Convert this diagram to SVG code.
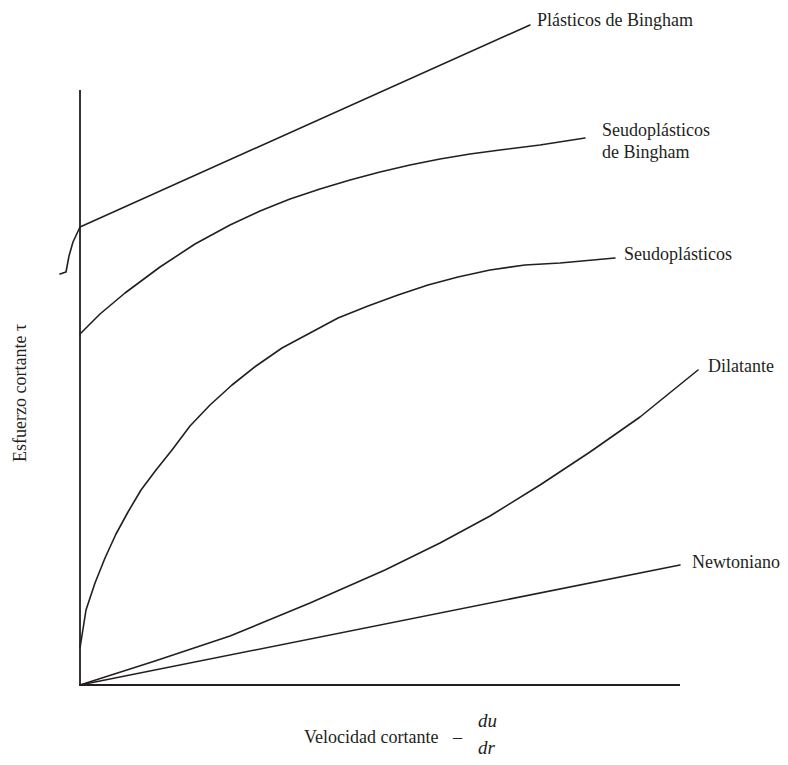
<svg xmlns="http://www.w3.org/2000/svg" width="788" height="765" viewBox="0 0 788 765">
<style>
.c{fill:none;stroke:#231f20;stroke-width:1.6;stroke-linejoin:round;stroke-linecap:round}
.ax{fill:none;stroke:#231f20;stroke-width:1.8}
text{font-family:"Liberation Serif","Times New Roman",serif;font-size:18px;fill:#231f20}
.it{font-style:italic;font-size:19px}
</style>
<rect width="788" height="765" fill="#fff"/>
<g id="axes">
<polyline class="ax" points="80,90 80,685 680,685"/>
</g>
<g id="connectors">
<polyline id="bingham" class="c" points="60,274 66,272 69,256 73,242 80,227 530,25"/>
<polyline id="seudo-bingham" class="c" points="80,334 100,314 125,293 160,267 195,244 230,225 260,211 290,199 320,189 350,180 380,172 410,165 440,159 470,154 500,150 540,145 585,138"/>
<polyline id="seudo" class="c" points="80,648 86,610 95,583 105,558 116,534 128,512 141,490 156,470 172,450 190,426 210,405 232,385 256,366 282,348 310,333 338,318 368,306 398,295 428,285 458,277 490,270 525,265 560,263 615,258"/>
<polyline id="dilatante" class="c" points="80,685 155,661 230,636 310,603 385,570 440,543 490,516 540,485 590,452 640,417 698,370"/>
<polyline id="newtoniano" class="c" points="80,685 680,565"/>
</g>
<g id="labels">
<text x="537" y="26">Plásticos de Bingham</text>
<text x="602" y="136">Seudoplásticos</text>
<text x="602" y="158">de Bingham</text>
<text x="624" y="260">Seudoplásticos</text>
<text x="708" y="372">Dilatante</text>
<text x="692" y="568">Newtoniano</text>
<text x="304" y="743">Velocidad cortante</text>
<text x="453" y="743">–</text>
<text class="it" x="478" y="727">du</text>
<text class="it" x="478" y="754">dr</text>
<text transform="translate(26,462) rotate(-90)">Esfuerzo cortante τ</text>
</g>
</svg>
